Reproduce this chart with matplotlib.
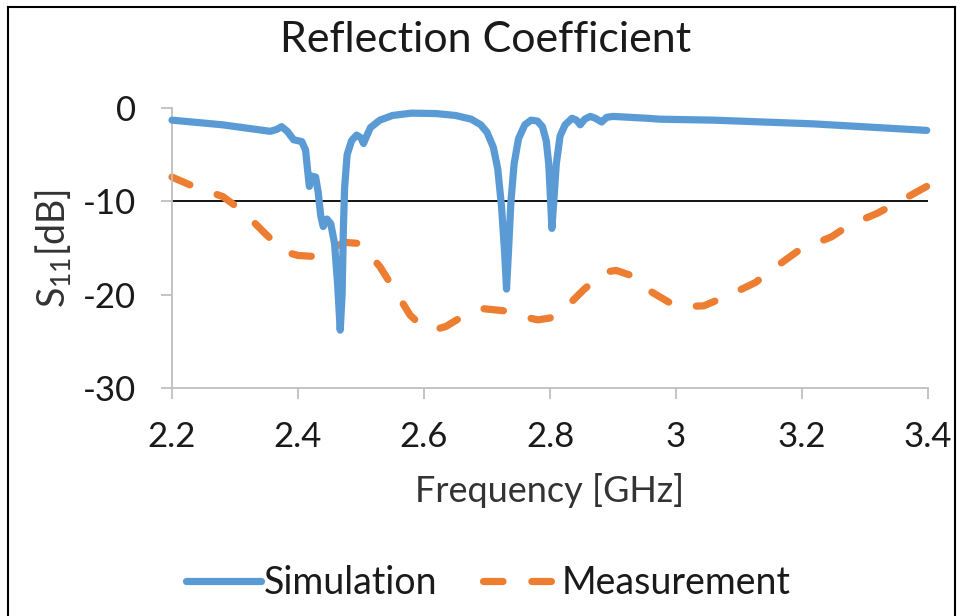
import matplotlib
matplotlib.use("Agg")
import matplotlib.pyplot as plt
from matplotlib.lines import Line2D

plt.rcParams['font.family'] = ['Lato', 'DejaVu Sans']
plt.rcParams['mathtext.fontset'] = 'custom'
plt.rcParams['mathtext.rm'] = 'Lato'
plt.rcParams['axes.unicode_minus'] = False

# Simulation (GHz, dB)
sim_f = [2.200, 2.280, 2.356, 2.366, 2.374, 2.383, 2.393, 2.406, 2.412, 2.415,
         2.418, 2.422, 2.428, 2.432, 2.436, 2.440, 2.446, 2.452, 2.458, 2.463,
         2.467, 2.470, 2.472, 2.474, 2.478, 2.485, 2.493, 2.500, 2.504, 2.509,
         2.515, 2.530, 2.550, 2.580, 2.620, 2.650, 2.675, 2.690, 2.700, 2.710,
         2.717, 2.723, 2.728, 2.731, 2.734, 2.738, 2.743, 2.750, 2.760, 2.770,
         2.780, 2.788, 2.794, 2.798, 2.801, 2.803, 2.806, 2.810, 2.816, 2.824,
         2.835, 2.842, 2.848, 2.855, 2.864, 2.872, 2.882, 2.890, 2.900, 2.954,
         2.975, 3.059, 3.218, 3.398]
sim_db = [-1.3, -1.8, -2.5, -2.3, -2.0, -2.5, -3.4, -3.6, -4.5, -6.5,
          -8.4, -7.3, -7.4, -9.0, -11.5, -12.7, -11.9, -12.4, -14.5, -19.0,
          -23.8, -20.0, -13.0, -8.5, -5.0, -3.5, -2.9, -3.2, -3.8, -3.0,
          -2.1, -1.3, -0.8, -0.55, -0.6, -0.8, -1.2, -1.8, -2.6, -4.2,
          -6.5, -10.5, -15.5, -19.4, -15.5, -10.0, -6.0, -3.3, -1.8, -1.3,
          -1.4, -2.0, -3.5, -6.0, -10.0, -12.9, -10.0, -6.0, -3.0, -1.8,
          -1.1, -1.3, -1.8, -1.2, -0.9, -1.1, -1.5, -1.0, -0.9, -1.1,
          -1.2, -1.3, -1.7, -2.4]

# Measurement (GHz, dB)
meas_f = [2.200, 2.234, 2.281, 2.313, 2.350, 2.379, 2.400, 2.424, 2.450, 2.475,
          2.495, 2.510, 2.530, 2.557, 2.578, 2.597, 2.615, 2.635, 2.652, 2.694,
          2.737, 2.760, 2.781, 2.800, 2.819, 2.853, 2.885, 2.905, 2.927, 2.961,
          3.001, 3.044, 3.086, 3.126, 3.163, 3.196, 3.247, 3.276, 3.319, 3.358,
          3.398]
meas_db = [-7.4, -8.4, -9.5, -11.1, -13.6, -15.4, -15.8, -15.9, -15.1, -14.4,
           -14.5, -15.4, -17.0, -19.9, -22.2, -23.4, -23.8, -23.4, -22.7, -21.5,
           -21.8, -22.4, -22.7, -22.5, -21.8, -19.5, -17.6, -17.4, -17.9, -19.7,
           -21.3, -21.2, -20.0, -18.7, -16.8, -15.2, -13.8, -12.5, -11.3, -9.9,
           -8.4]

threshold_db = -10
x_ticks = [2.2, 2.4, 2.6, 2.8, 3.0, 3.2, 3.4]
x_tick_labels = ['2.2', '2.4', '2.6', '2.8', '3', '3.2', '3.4']
y_ticks = [0, -10, -20, -30]

blue = '#5b9bd5'
orange = '#ed7d31'
gray = '#bfbfbf'
lw = 5.2
dash = (2.7, 4.0)

fig = plt.figure(figsize=(9.6, 6.16), dpi=100)
ax = fig.add_axes([172/960, 1-388/616, (928-172)/960, (388-108)/616])

ax.axhline(threshold_db, color='black', lw=1.3, zorder=1)
ax.plot(sim_f, sim_db, color=blue, lw=lw, solid_capstyle='round',
        solid_joinstyle='round', clip_on=False, zorder=3, label='Simulation')
ax.plot(meas_f, meas_db, color=orange, lw=lw, dash_capstyle='round',
        dash_joinstyle='round', dashes=dash, clip_on=False, zorder=2,
        label='Measurement')

ax.set_xlim(2.2, 3.4)
ax.set_ylim(-30, 0)
ax.set_xticks(x_ticks)
ax.set_xticklabels(x_tick_labels)
ax.set_yticks(y_ticks)
for s in ['top', 'right']:
    ax.spines[s].set_visible(False)
for s in ['left', 'bottom']:
    ax.spines[s].set_color(gray)
    ax.spines[s].set_linewidth(1.3)
ax.tick_params(axis='both', colors=gray, length=8, width=1.3, labelcolor='#1a1a1a',
               labelsize=25)
ax.tick_params(axis='x', pad=16)
ax.tick_params(axis='y', pad=18)

ax.set_xlabel('Frequency [GHz]', fontsize=26, color='#333333', labelpad=14)
ax.set_ylabel(r'S$_{\mathrm{11}}$[dB]', fontsize=27, color='#333333', labelpad=6)

fig.text(486/960, 1-40/616, 'Reflection Coefficient', ha='center', va='center',
         fontsize=31, color='#1a1a1a')

h1 = Line2D([0], [0], color=blue, lw=lw, solid_capstyle='round')
h2 = Line2D([0], [0], color=orange, lw=lw, dash_capstyle='round', dashes=dash)
leg = fig.legend([h1, h2], ['Simulation', 'Measurement'], loc='center',
                 bbox_to_anchor=(488/960, 1-583/616), ncol=2, frameon=False,
                 fontsize=27, handlelength=2.0, handletextpad=0.1, columnspacing=1.2)
for t in leg.get_texts():
    t.set_color('#1a1a1a')

# outer frame
fig.add_artist(Line2D([8/960, 8/960], [0, 1-7/616], color='black', lw=1.5, transform=fig.transFigure))
fig.add_artist(Line2D([8/960, 955/960], [1-7/616, 1-7/616], color='black', lw=1.5, transform=fig.transFigure))
fig.add_artist(Line2D([955/960, 955/960], [0, 1-7/616], color='black', lw=1.5, transform=fig.transFigure))

fig.savefig('out.png', dpi=100)
